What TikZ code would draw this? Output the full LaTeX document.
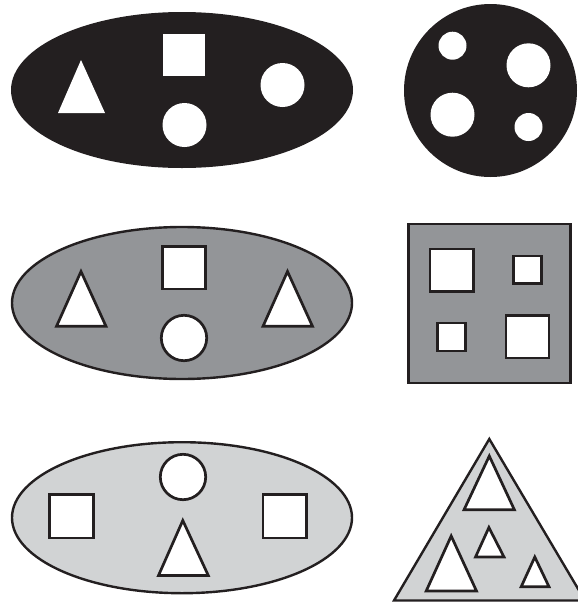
\documentclass[tikz,border=0pt]{standalone}
\definecolor{ink}{HTML}{231F20}
\definecolor{midgray}{HTML}{939598}
\definecolor{lgray}{HTML}{D1D3D4}
\begin{document}
\begin{tikzpicture}[x=1pt,y=-1pt,
  outer/.style={draw=ink,line width=2.4pt,line join=miter},
  hole/.style={fill=white,draw=ink,line width=2.7pt,line join=miter},
  cut/.style={fill=white}]
\useasboundingbox (0,0) rectangle (578,603);
\clip (0,0) rectangle (578,603);
% Row 1
\fill[ink] (182,90) ellipse [x radius=171pt, y radius=78pt];
\fill[cut] (81,60) -- (105,113) -- (58,113) -- cycle;
\fill[cut] (163,34) rectangle (205,76);
\fill[cut] (184.5,125) circle [radius=22pt];
\fill[cut] (282.5,85) circle [radius=22pt];
\fill[ink] (490.5,90.5) circle [radius=86.5pt];
\fill[cut] (452.5,45.7) circle [radius=14pt];
\fill[cut] (528.5,65.3) circle [radius=22pt];
\fill[cut] (452.5,114.7) circle [radius=22pt];
\fill[cut] (528.5,127) circle [radius=14pt];
% Row 2
\filldraw[outer,fill=midgray] (182,303) ellipse [x radius=170pt, y radius=76pt];
\draw[hole] (162.4,246.3) rectangle (205.7,289);
\draw[hole] (184,338) circle [radius=22.7pt];
\draw[hole] (81,271.5) -- (106,326.3) -- (56.5,326.3) -- cycle;
\draw[hole] (287.5,271.5) -- (312.5,326.3) -- (263,326.3) -- cycle;
\filldraw[outer,fill=midgray] (408.6,224) rectangle (570.4,382.7);
\draw[hole] (430,249) rectangle (473.2,291.4);
\draw[hole] (513.3,256) rectangle (541.4,283.7);
\draw[hole] (437.3,323) rectangle (465.8,351);
\draw[hole] (505.9,315.6) rectangle (549,358);
% Row 3
\filldraw[outer,fill=lgray] (182,517.7) ellipse [x radius=170pt, y radius=75.5pt];
\draw[hole] (183,477) circle [radius=22.7pt];
\draw[hole] (49.6,494.3) rectangle (93.2,538);
\draw[hole] (263,494.3) rectangle (306.2,538);
\draw[hole] (182.8,520.5) -- (208.3,575.5) -- (158.5,575.5) -- cycle;
\filldraw[outer,fill=lgray] (489.3,439) -- (585,600.5) -- (394,600.5) -- cycle;
\draw[hole] (489.3,456) -- (514.4,509.8) -- (464,509.8) -- cycle;
\draw[hole] (488.9,527.5) -- (504,557) -- (475.5,557) -- cycle;
\draw[hole] (451.2,536) -- (476.5,591) -- (426.2,591) -- cycle;
\draw[hole] (534.8,557) -- (549,586.7) -- (521.2,586.7) -- cycle;
\end{tikzpicture}
\end{document}
